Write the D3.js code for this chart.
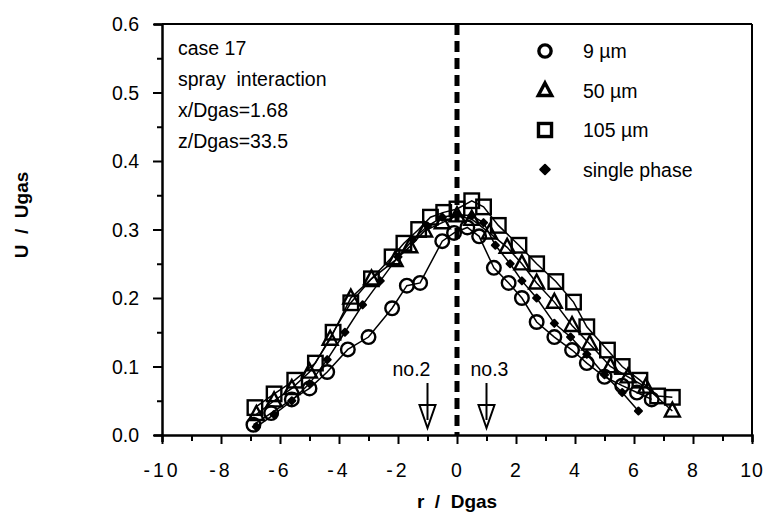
<!DOCTYPE html>
<html><head><meta charset="utf-8">
<script src="https://cdn.jsdelivr.net/npm/d3@7"></script>
<style>
html,body{margin:0;padding:0;background:#fff;}
text{font-family:"Liberation Sans",Arial,sans-serif;fill:#000;}
</style></head>
<body><svg id="c" width="774" height="517"></svg>
<script>
// ---- data ----
const r9   = [-6.9,-6.3,-5.6,-5.0,-4.4,-3.7,-3.0,-2.2,-1.7,-1.25,-0.5,-0.1,0.35,0.75,1.25,1.75,2.2,2.7,3.3,3.9,4.4,5.0,5.6,6.1,6.6];
const u9   = [0.015,0.032,0.052,0.068,0.092,0.125,0.143,0.185,0.218,0.222,0.283,0.295,0.303,0.29,0.244,0.222,0.2,0.165,0.143,0.124,0.105,0.085,0.072,0.062,0.052];
const r50  = [-6.8,-6.2,-5.6,-5.0,-4.3,-3.6,-2.9,-2.1,-1.6,-1.1,-0.5,0.0,0.5,1.1,1.7,2.2,2.7,3.3,3.9,4.5,5.2,5.8,6.4,7.3];
const u50  = [0.03,0.05,0.068,0.092,0.14,0.2,0.228,0.255,0.275,0.298,0.31,0.32,0.315,0.295,0.274,0.25,0.222,0.194,0.16,0.133,0.1,0.085,0.07,0.035];
const r105 = [-6.85,-6.2,-5.5,-4.8,-4.2,-3.6,-2.9,-2.2,-1.8,-1.3,-0.9,-0.45,0.0,0.5,0.9,1.4,2.1,2.7,3.35,3.95,4.4,5.1,5.6,6.2,6.8,7.3];
const u105 = [0.04,0.06,0.08,0.105,0.15,0.193,0.228,0.26,0.28,0.3,0.318,0.325,0.33,0.342,0.333,0.306,0.277,0.25,0.224,0.194,0.158,0.124,0.1,0.08,0.057,0.055];
const rSP  = [-6.8,-6.2,-5.6,-5.0,-4.4,-3.8,-3.2,-2.6,-2.0,-1.5,-1.0,-0.5,0.0,0.5,0.9,1.3,1.8,2.2,2.7,3.3,3.85,4.4,5.0,5.6,6.15];
const uSP  = [0.012,0.03,0.05,0.075,0.11,0.15,0.19,0.225,0.26,0.285,0.305,0.318,0.322,0.32,0.31,0.277,0.25,0.225,0.2,0.163,0.143,0.118,0.088,0.062,0.035];
const xTicks = [-10,-8,-6,-4,-2,0,2,4,6,8,10];
const yTicks = [0.0,0.1,0.2,0.3,0.4,0.5,0.6];
const legendLabels = ["9 \u00b5m","50 \u00b5m","105 \u00b5m","single phase"];
const infoLines = ["case 17","spray  interaction","x/Dgas=1.68","z/Dgas=33.5"];
const arrowPos = [-1, 1];
const arrowLabels = ["no.2","no.3"];

// ---- chart ----
const svg = d3.select("#c");
const x = d3.scaleLinear().domain([-10,10]).range([162,752]);
const y = d3.scaleLinear().domain([0,0.6]).range([435,24]);

// frame top/right
svg.append("line").attr("x1",x(-10)).attr("x2",x(10)).attr("y1",y(0.6)).attr("y2",y(0.6)).attr("stroke","#000").attr("stroke-width",2);
svg.append("line").attr("x1",x(10)).attr("x2",x(10)).attr("y1",y(0.6)).attr("y2",y(0)).attr("stroke","#000").attr("stroke-width",2);

// axes
const xAxis = d3.axisBottom(x).tickValues(d3.range(-10,11,1)).tickSize(7).tickFormat("");
const gx = svg.append("g").attr("transform",`translate(0,${y(0)})`).call(xAxis);
gx.selectAll(".tick line").attr("y2",d=>d%2===0?9:6).attr("stroke-width",2);
gx.select(".domain").attr("stroke-width",2.5);
const gy = svg.append("g").attr("transform",`translate(${x(-10)},0)`).call(d3.axisLeft(y).tickValues(d3.range(0,0.601,0.05)).tickSize(8).tickFormat(""));
gy.selectAll(".tick line").attr("x2",(d,i)=>i%2===0?-9:-5).attr("stroke-width",2);
gy.select(".domain").attr("stroke-width",2.5);

// tick labels
svg.append("g").selectAll("text").data(xTicks).join("text")
  .attr("x",d=>x(d)).attr("y",477).attr("text-anchor","middle")
  .attr("font-size",19.5).attr("letter-spacing",d=>d<0?"3px":"1px")
  .text(d=>d);
svg.append("g").selectAll("text").data(yTicks).join("text")
  .attr("x",139).attr("y",d=>y(d)+7).attr("text-anchor","end")
  .attr("font-size",19.5).text(d=>d.toFixed(1));

// axis titles
svg.append("text").attr("x",457).attr("y",508).attr("text-anchor","middle")
  .attr("font-size",19).attr("font-weight","bold").attr("xml:space","preserve").text("r  /  Dgas");
svg.append("text").attr("transform","translate(28,215) rotate(-90)").attr("text-anchor","middle")
  .attr("font-size",19).attr("font-weight","bold").attr("xml:space","preserve").text("U  /  Ugas");

// dashed centre line
svg.append("line").attr("x1",x(0)).attr("x2",x(0)).attr("y1",y(0.6)).attr("y2",y(0))
  .attr("stroke","#000").attr("stroke-width",5).attr("stroke-dasharray","11,6");

// series
const series = [
  {r:r9,u:u9,sym:"circle"},
  {r:r50,u:u50,sym:"triangle"},
  {r:r105,u:u105,sym:"square"},
  {r:rSP,u:uSP,sym:"dot"}
];
const line = d3.line().x(d=>x(d[0])).y(d=>y(d[1]));
series.forEach(s=>{
  const pts = s.r.map((v,i)=>[v,s.u[i]]);
  svg.append("path").datum(pts).attr("d",line).attr("fill","none").attr("stroke","#000").attr("stroke-width",1.5);
});
function drawSym(g,sym,cx,cy,scale){
  scale = scale||1;
  if(sym==="circle"){
    g.append("circle").attr("cx",cx).attr("cy",cy).attr("r",6.8*scale).attr("fill","none").attr("stroke","#000").attr("stroke-width",2.4);
  } else if(sym==="triangle"){
    const h=14*scale, w=15*scale;
    g.append("path").attr("d",`M${cx},${cy-h*0.6}L${cx+w/2},${cy+h*0.4}L${cx-w/2},${cy+h*0.4}Z`).attr("fill","none").attr("stroke","#000").attr("stroke-width",2.4).attr("stroke-linejoin","miter");
  } else if(sym==="square"){
    const s=14.5*scale;
    g.append("rect").attr("x",cx-s/2).attr("y",cy-s/2).attr("width",s).attr("height",s).attr("fill","none").attr("stroke","#000").attr("stroke-width",2.4);
  } else {
    const s=7*scale;
    g.append("rect").attr("x",-s/2).attr("y",-s/2).attr("width",s).attr("height",s).attr("rx",1)
      .attr("transform",`translate(${cx},${cy}) rotate(45)`).attr("fill","#000");
  }
}
series.forEach(s=>{
  const g = svg.append("g");
  s.r.forEach((v,i)=>drawSym(g,s.sym,x(v),y(s.u[i])));
});

// info text
svg.append("g").selectAll("text").data(infoLines).join("text")
  .attr("x",178).attr("y",(d,i)=>55+i*31).attr("font-size",19.5).attr("xml:space","preserve").text(d=>d);

// legend
const lg = svg.append("g");
["circle","triangle","square","dot"].forEach((sym,i)=>{
  const cy = 51+i*39.5;
  drawSym(lg,sym,545,cy,sym==="dot"?1.25:0.9);
  lg.append("text").attr("x",583).attr("y",cy+7).attr("font-size",19.5).text(legendLabels[i]);
});
lg.selectAll("circle,path,rect").filter(function(){return this.getAttribute("fill")==="none";}).attr("stroke-width",3.4);

// arrows
arrowPos.forEach((p,i)=>{
  const ax = x(p);
  svg.append("line").attr("x1",ax).attr("x2",ax).attr("y1",383).attr("y2",420).attr("stroke","#000").attr("stroke-width",2);
  svg.append("path").attr("d",`M${ax-8},${405}L${ax+8},${405}L${ax},${428}Z`).attr("fill","none").attr("stroke","#000").attr("stroke-width",2);
  svg.append("text").attr("x",ax-(i===0?16:-3)).attr("y",376).attr("text-anchor","middle").attr("font-size",19.5).text(arrowLabels[i]);
});
</script></body></html>
